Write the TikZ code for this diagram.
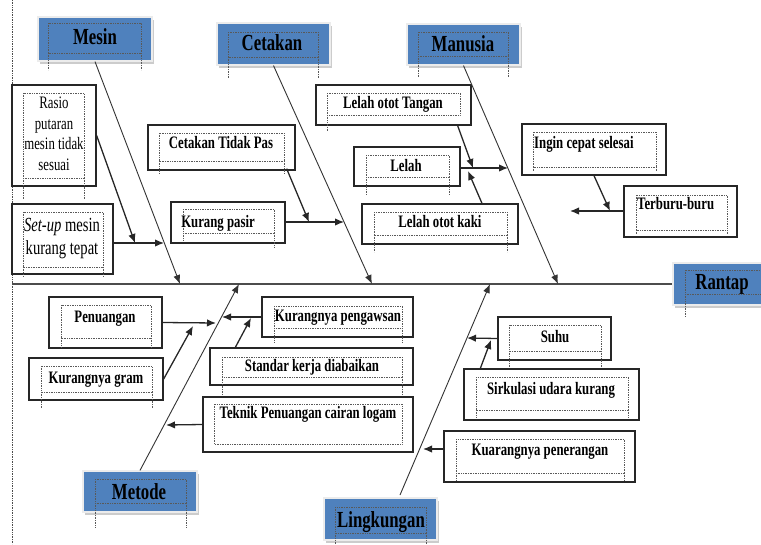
\documentclass[tikz,border=0pt]{standalone}
\usepackage{fontspec}
\newfontfamily\boxfont[FakeStretch=0.73]{Liberation Serif}
\usetikzlibrary{arrows.meta, calc, shadows}
\definecolor{headblue}{RGB}{79,129,189}
\tikzset{
  head/.style={draw=gray!15, line width=1.2pt, fill=headblue, inner sep=0pt,
    drop shadow={shadow xshift=1.5pt, shadow yshift=-3pt, fill=gray!40, opacity=1}},
  cause/.style={draw=black!85, line width=1.3pt, fill=white, inner sep=0pt},
  frame/.style={draw=black!65, densely dotted, line width=0.7pt},
  headtext/.style={font=\boxfont\bfseries\fontsize{23}{27}\selectfont, inner sep=0pt, text height=15.2pt, text depth=0pt},
  causetext/.style={font=\boxfont\bfseries\fontsize{17.5}{21}\selectfont, inner sep=0pt, text height=11.6pt, text depth=0pt},
  bone/.style={draw=black!80, line width=0.9pt, -{Latex[length=9pt,width=7pt]}},
  arr/.style={draw=black!85, line width=1.3pt, -{Latex[length=9pt,width=7.5pt]}},
  spine/.style={draw=black!70, line width=1.6pt}
}

\begin{document}
\begin{tikzpicture}[x=1pt, y=-1pt]
    \useasboundingbox (0,0) rectangle (761,544);
    \clip (0,0) rectangle (761,544);

    % Page margin
    \draw[densely dotted, black!70, line width=0.7pt] (12,0) -- (12,544);

    % Category boxes
    \node[head, minimum width=114pt, minimum height=44pt] (mesin) at (95,39) {};
    \node[head, minimum width=113pt, minimum height=42pt] (cetakan) at (273.5,44) {};
    \node[head, minimum width=113pt, minimum height=41pt] (manusia) at (463.5,44.5) {};
    \node[head, minimum width=102pt, minimum height=42pt] (rantap) at (724,284) {};
    \node[head, minimum width=114pt, minimum height=41pt] (metode) at (140,491.5) {};
    \node[head, minimum width=113pt, minimum height=42pt] (lingkungan) at (380.5,519) {};

    % Cause boxes
    \node[cause, minimum width=84pt, minimum height=101pt] (rasio) at (54,135.5) {};
    \node[cause, minimum width=101pt, minimum height=70pt] (setup) at (62.5,239) {};
    \node[cause, minimum width=147pt, minimum height=45pt] (ctp) at (221.5,147.5) {};
    \node[cause, minimum width=114pt, minimum height=41pt] (kp) at (228,222.5) {};
    \node[cause, minimum width=155pt, minimum height=40pt] (lot) at (393.5,105) {};
    \node[cause, minimum width=106pt, minimum height=39pt] (lelah) at (407,166.5) {};
    \node[cause, minimum width=156pt, minimum height=40pt] (lok) at (440,224) {};
    \node[cause, minimum width=144pt, minimum height=51pt] (ingin) at (594,149.5) {};
    \node[cause, minimum width=113pt, minimum height=51pt] (terburu) at (680.5,211.5) {};
    \node[cause, minimum width=113pt, minimum height=51pt] (penuangan) at (105.5,322.5) {};
    \node[cause, minimum width=134pt, minimum height=42pt] (kgram) at (96,379) {};
    \node[cause, minimum width=151pt, minimum height=40pt] (kpeng) at (337.5,317) {};
    \node[cause, minimum width=203pt, minimum height=37pt] (standar) at (311.5,366.5) {};
    \node[cause, minimum width=210pt, minimum height=55pt] (teknik) at (308,424.5) {};
    \node[cause, minimum width=113pt, minimum height=43pt] (suhu) at (554.5,338.5) {};
    \node[cause, minimum width=175pt, minimum height=51pt] (sirk) at (551.5,394.5) {};
    \node[cause, minimum width=191pt, minimum height=51pt] (kpen) at (539.5,456.5) {};

    % Dotted text frames
    \foreach \xa/\ya/\xb/\yb/\ta/\tb in {48/23/141/53/70/70, 228/32/318/57/78/78,
        418/32/508/56/77/77, 685/270/780/294/317/294, 95/479/186/503/527/527,
        335/507/426/533/544/544, 23/93/84/178/200/200, 23/212/103/267/277/277,
        159/133/284/161/173/173, 183/209/274/233/240/248, 327/93/460/115/132/115,
        366/155/449/177/195/195, 374/212/507/235/252/252, 533/132/656/167/172/172,
        636/195/727/230/235/235, 61/305/151/338/347/347, 41/366/152/392/408/408,
        274/306/402/328/343/343, 222/357/402/377/395/395, 214/404/402/444/444/444,
        509/325/601/351/367/367, 476/377/628/410/417/417, 456/439/624/473/480/480}
    {
        \draw[frame] (\xa,\ya) rectangle (\xb,\yb);
        \draw[frame] (\xa,\yb) -- (\xa,\ta) (\xb,\yb) -- (\xb,\tb);
    }

    % Labels
    \node[headtext] (t-mesin) at (95,37) {Mesin};
    \node[headtext] (t-cetakan) at (272,43) {Cetakan};
    \node[headtext] (t-manusia) at (463,44) {Manusia};
    \node[headtext] (t-rantap) at (722,282) {Rantap};
    \node[headtext] (t-metode) at (139,492) {Metode};
    \node[headtext] (t-lingkungan) at (381,520) {Lingkungan};

    \node[font=\boxfont\fontsize{17.5}{20.5}\selectfont, align=center, anchor=north, inner sep=0pt]
        (t-rasio) at (54,97) {Rasio\\putaran\\mesin tidak\\sesuai};
    \node[font=\boxfont\fontsize{20}{23}\selectfont, align=center, anchor=north, inner sep=0pt]
        (t-setup) at (62,218) {\textit{Set-up} mesin\\kurang tepat};
    \node[causetext] (t-ctp) at (221,143) {Cetakan Tidak Pas};
    \node[causetext] (t-kp) at (218,222) {Kurang pasir};
    \node[causetext] (t-lot) at (393,103) {Lelah otot Tangan};
    \node[causetext] (t-lelah) at (406,166) {Lelah};
    \node[causetext] (t-lok) at (440,222) {Lelah otot kaki};
    \node[causetext, anchor=west] (t-ingin) at (534,143) {Ingin cepat selesai};
    \node[causetext, anchor=west] (t-terburu) at (637,204) {Terburu-buru};
    \node[causetext] (t-penuangan) at (105,317) {Penuangan};
    \node[causetext] (t-kgram) at (96,378) {Kurangnya gram};
    \node[causetext] (t-kpeng) at (338,316) {Kurangnya pengawsan};
    \node[causetext] (t-standar) at (312,366) {Standar kerja diabaikan};
    \node[causetext] (t-teknik) at (308,413) {Teknik Penuangan cairan logam};
    \node[causetext] (t-suhu) at (555,337) {Suhu};
    \node[causetext] (t-sirk) at (551,389) {Sirkulasi udara kurang};
    \node[causetext] (t-kpen) at (540,450) {Kuarangnya penerangan};

    % Spine and main bones
    \coordinate (sp) at (12,284);
    \coordinate (ms) at (180,284);
    \coordinate (cs) at (372,284);
    \coordinate (mns) at (558,284);
    \coordinate (mts) at (239,284);
    \coordinate (lks) at (490,284);
    \coordinate (lkfoot) at (400,495);
    \draw[spine] (sp) -- (rantap.west);
    \draw[bone] (mesin.south) -- (ms);
    \draw[bone] (cetakan.south) -- (cs);
    \draw[bone] (manusia.south) -- (mns);
    \draw[bone] (metode.north) -- (mts);
    \draw[bone] (lkfoot) -- (lks);

    % Mesin causes
    \coordinate (mb) at (164,243);
    \coordinate (mj) at (135,243);
    \draw[arr] (setup.east |- mb) -- (mb);
    \draw[arr] (rasio.east) -- (mj);

    % Cetakan causes
    \coordinate (cb) at (344,222);
    \coordinate (cj) at (309,222);
    \draw[arr] (kp.east |- cb) -- (cb);
    \draw[arr] ($(ctp.south east)+(-9,-2)$) -- (cj);

    % Manusia causes
    \coordinate (mnb) at (508,168);
    \coordinate (mnj) at (473,168);
    \coordinate (mnk) at (468,171);
    \draw[arr] (lelah.east |- mnb) -- (mnb);
    \draw[arr] ($(lot.south east)+(-14,0)$) -- (mnj);
    \draw[arr] ($(lok.north)+(42,0)$) -- (mnk);
    \coordinate (tb) at (570,211);
    \coordinate (tj) at (610,211);
    \draw[arr] (terburu.west |- tb) -- (tb);
    \draw[arr] (ingin.south) -- (tj);

    % Metode causes
    \coordinate (mtb1) at (216,323);
    \coordinate (pj) at (193,326);
    \coordinate (mtb2) at (222,317);
    \coordinate (kj) at (251,318);
    \coordinate (mtb3) at (166,425);
    \draw[arr] (penuangan.east) -- (mtb1);
    \draw[arr] (kgram.east) -- (pj);
    \draw[arr] (kpeng.west) -- (mtb2);
    \draw[arr] ($(standar.north west)+(26,0)$) -- (kj);
    \draw[arr] (teknik.west) -- (mtb3);

    % Lingkungan causes
    \coordinate (lkb1) at (467,338);
    \coordinate (sj) at (491,340);
    \coordinate (lkb2) at (423,449);
    \draw[arr] (suhu.west) -- (lkb1);
    \draw[arr] ($(sirk.north west)+(17,0)$) -- (sj);
    \draw[arr] (kpen.west |- lkb2) -- (lkb2);

\end{tikzpicture}
\end{document}
